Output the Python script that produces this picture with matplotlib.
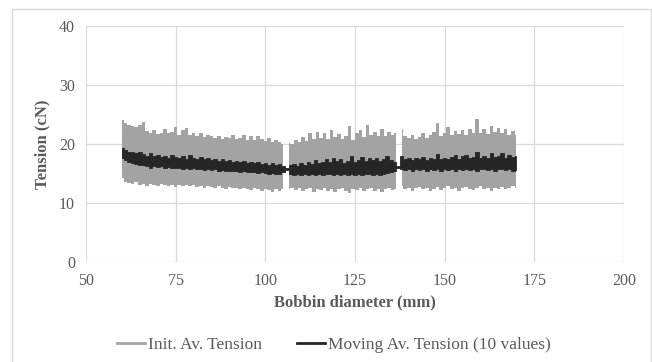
import numpy as np
import matplotlib
matplotlib.use('Agg')
import matplotlib.pyplot as plt
from matplotlib.lines import Line2D
from matplotlib.patches import Rectangle

plt.rcParams['font.family'] = ['Liberation Serif', 'DejaVu Serif']

# grey band (Init. Av. Tension): upper / lower envelope per segment
x_seg1 = np.arange(60, 106)      # 60 .. 105
x_seg2 = np.arange(106.5, 137)   # 106.5 .. 136.5
x_seg3 = np.arange(138, 171)     # 138 .. 170

init_hi_1 = [24.0, 23.6, 23.2, 23.0, 22.8, 23.3, 23.8, 22.2, 21.8, 22.4,
             21.7, 21.9, 22.6, 21.8, 22.0, 22.9, 21.6, 22.3, 22.7, 21.5,
             21.8, 21.4, 21.9, 21.2, 21.5, 21.3, 21.0, 21.4, 20.9, 21.2,
             21.0, 21.6, 20.8, 21.1, 21.5, 20.7, 21.3, 20.6, 21.4, 20.8,
             20.5, 21.0, 20.4, 20.7, 20.3, 20.0]
init_lo_1 = [14.2, 13.6, 13.4, 13.2, 13.5, 13.1, 13.3, 12.9, 13.2, 13.0,
             12.8, 13.2, 13.0, 12.9, 13.1, 12.7, 13.0, 12.9, 13.1, 12.8,
             13.0, 12.7, 12.9, 12.6, 12.9, 12.7, 12.5, 12.8, 12.6, 12.4,
             12.7, 12.5, 12.6, 12.3, 12.6, 12.4, 12.2, 12.5, 12.3, 12.1,
             12.4, 12.2, 11.8, 12.3, 12.1, 12.3]

init_hi_2 = [20.2, 20.0, 20.6, 20.3, 21.2, 20.5, 21.9, 20.8, 22.1, 21.0,
             21.8, 20.9, 22.3, 21.2, 21.7, 20.8, 21.3, 23.0, 20.6, 21.9,
             22.4, 21.2, 23.3, 21.5, 22.0, 21.3, 22.6, 21.4, 22.1, 21.6,
             21.8]
init_lo_2 = [12.4, 12.6, 12.2, 12.5, 12.0, 12.3, 12.6, 11.8, 12.4, 12.2,
             12.5, 12.1, 12.4, 11.9, 12.3, 12.5, 12.1, 11.7, 12.4, 12.2,
             12.5, 12.0, 12.3, 12.6, 12.1, 12.4, 11.9, 12.3, 12.5, 12.2,
             12.4]

init_hi_3 = [22.6, 21.3, 21.0, 21.5, 20.9, 21.2, 21.8, 21.1, 21.6, 22.0,
             23.5, 21.4, 21.9, 22.8, 21.5, 22.2, 21.7, 22.4, 21.6, 22.6,
             21.8, 24.2, 21.9, 22.5, 21.7, 23.0, 22.1, 22.7, 21.8, 22.5,
             21.6, 22.2, 21.5]
init_lo_3 = [12.8, 12.4, 12.6, 12.1, 12.5, 12.7, 12.3, 12.6, 12.0, 12.4,
             12.7, 12.2, 12.5, 12.8, 12.3, 12.6, 12.1, 12.5, 12.7, 12.4,
             12.2, 12.6, 12.8, 12.3, 12.5, 12.1, 12.6, 12.4, 12.7, 12.3,
             12.5, 12.8, 12.6]

# black band (Moving Av. Tension, 10 values)
x_ma = np.arange(60, 171)
ma_hi = [19.3, 18.9, 18.7, 18.6, 18.4, 18.7, 18.3, 18.0, 18.5, 17.9,
         18.1, 17.8, 18.0, 17.7, 18.2, 17.8, 17.6, 17.9, 17.5, 18.2,
         17.7, 17.5, 17.8, 17.4, 17.6, 17.3, 17.5, 17.2, 17.4, 17.1,
         17.3, 17.0, 17.2, 16.9, 17.1, 16.8, 17.0, 16.7, 16.9, 16.6,
         16.8, 16.5, 16.7, 16.4, 16.6, 16.3, 15.9, 16.4, 16.6, 16.3,
         16.7, 16.5, 16.9, 16.6, 17.3, 16.8, 17.0, 17.5, 16.9, 17.6,
         17.1, 17.4, 16.8, 17.2, 18.0, 17.0, 17.3, 17.8, 17.1, 17.6,
         17.3, 17.7, 17.2, 17.5, 17.9, 17.3, 16.9, 16.2, 18.0, 17.4,
         17.6, 17.3, 17.7, 17.4, 17.8, 17.3, 17.6, 17.4, 18.3, 17.5,
         17.7, 17.4, 17.8, 18.1, 17.5, 17.9, 18.2, 17.6, 17.8, 18.6,
         17.7, 17.9, 17.6, 18.4, 17.8, 18.0, 18.5, 17.7, 18.1, 17.8,
         17.9]
ma_lo = [17.6, 17.3, 17.0, 16.8, 16.6, 16.4, 16.5, 16.2, 16.0, 16.3,
         16.1, 16.2, 16.0, 16.1, 15.9, 16.0, 15.9, 15.8, 16.0, 15.8,
         15.9, 15.7, 15.8, 15.6, 15.8, 15.6, 15.7, 15.5, 15.6, 15.4,
         15.5, 15.4, 15.5, 15.3, 15.4, 15.3, 15.2, 15.3, 15.1, 15.2,
         15.1, 15.0, 15.1, 14.9, 15.0, 15.2, 15.6, 14.9, 14.8, 14.9,
         14.7, 14.9, 14.8, 15.0, 14.8, 14.9, 14.7, 14.9, 15.0, 14.8,
         14.9, 14.7, 14.9, 14.8, 15.0, 14.8, 14.9, 14.7, 14.9, 15.0,
         14.8, 14.9, 14.7, 14.9, 15.1, 15.2, 15.5, 15.9, 15.8, 15.6,
         15.7, 15.5, 15.7, 15.6, 15.8, 15.5, 15.7, 15.6, 15.8, 15.5,
         15.7, 15.6, 15.8, 15.5, 15.7, 15.6, 15.8, 15.6, 15.7, 15.5,
         15.7, 15.8, 15.6, 15.7, 15.5, 15.7, 15.8, 15.6, 15.7, 15.5,
         15.6]

grey = '#a3a3a3'
dark = '#262626'
txt = '#595959'

fig = plt.figure(figsize=(6.52, 3.62), dpi=100)
ax = fig.add_axes([86 / 652, 1 - 262 / 362, 538 / 652, 236 / 362])

segs = [(x_seg1, init_hi_1, init_lo_1),
        (x_seg2, init_hi_2, init_lo_2),
        (x_seg3, init_hi_3, init_lo_3)]
for xs, hi, lo in segs:
    ax.fill_between(xs, lo, hi, step='mid', color=grey, lw=0, zorder=2)

ax.fill_between(x_ma, ma_lo, ma_hi, step='mid', color=dark, lw=0.6,
                edgecolor=dark, zorder=3)

ax.set_xlim(50, 200)
ax.set_ylim(0, 40)
ax.set_xticks([50, 75, 100, 125, 150, 175, 200])
ax.set_yticks([0, 10, 20, 30, 40])
ax.grid(color='#d9d9d9', lw=0.9)
ax.set_axisbelow(True)
for s in ax.spines.values():
    s.set_visible(False)
ax.tick_params(length=0, labelsize=11.5, labelcolor=txt, pad=8)
ax.set_xlabel('Bobbin diameter (mm)', fontsize=12, fontweight='bold',
              color=txt, labelpad=4)
ax.set_ylabel('Tension (cN)', fontsize=12, fontweight='bold',
              color=txt, labelpad=6)

handles = [Line2D([], [], color=grey, lw=2),
           Line2D([], [], color=dark, lw=2)]
fig.legend(handles, ['Init. Av. Tension', 'Moving Av. Tension (10 values)'],
           loc='center', bbox_to_anchor=(334 / 652, 1 - 345 / 362), ncol=2,
           frameon=False, fontsize=12.5, handlelength=1.6, handletextpad=0.2,
           columnspacing=2.0, labelcolor=txt)

fig.patches.append(Rectangle((12 / 652, -0.01), 639 / 652, 1 - 9 / 362 + 0.01,
                             transform=fig.transFigure, fill=False,
                             edgecolor='#d9d9d9', lw=1))

fig.savefig('out.png', dpi=100, facecolor='white')
